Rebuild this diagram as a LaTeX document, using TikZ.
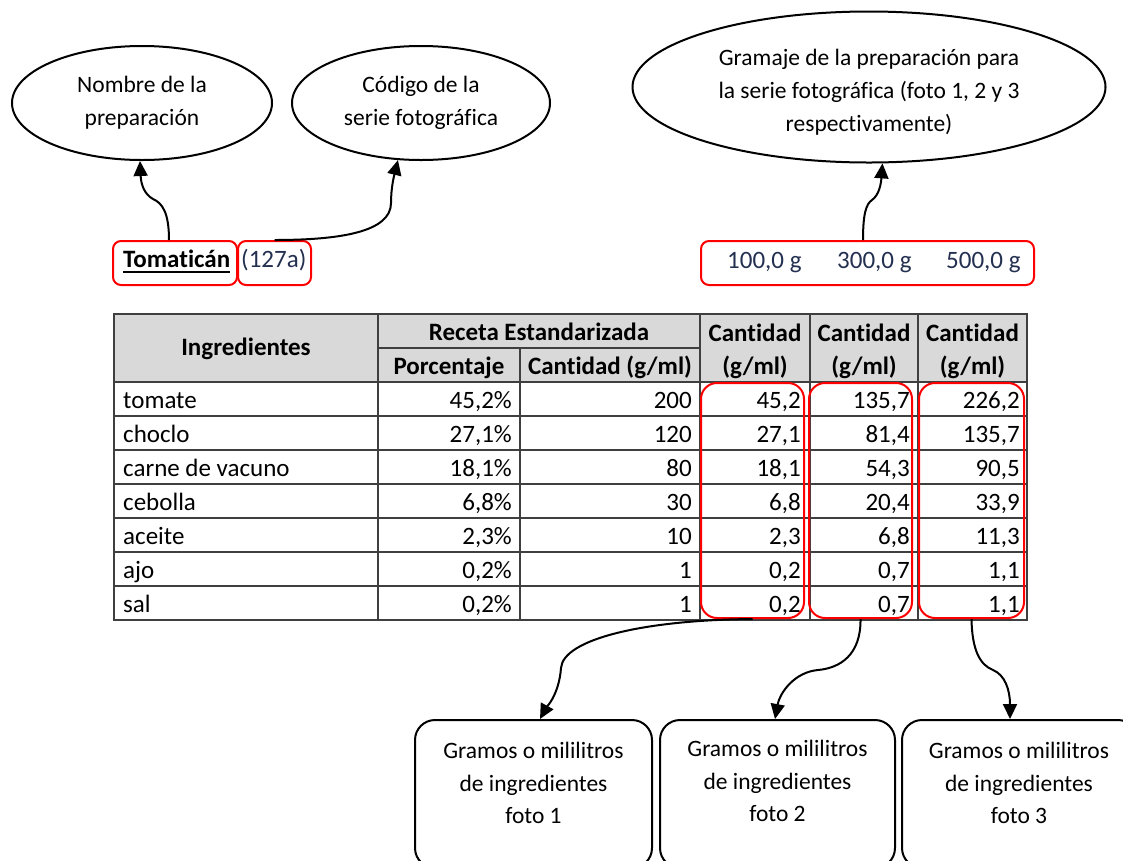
\documentclass[tikz,border=0pt]{standalone}
\usepackage{fontspec}
\setmainfont{Carlito}[Ligatures=NoCommon]
\usetikzlibrary{shapes.geometric,arrows.meta}
\definecolor{redb}{HTML}{FF0000}
\definecolor{hdrfill}{HTML}{D9D9D9}
\definecolor{gridc}{HTML}{3F3F3F}
\definecolor{navyc}{HTML}{233050}
\newcommand\annfont{\fontsize{23.5}{33}\selectfont}
\newcommand\capfont{\fontsize{23.5}{32.5}\selectfont}
\newcommand\tabfont{\fontsize{25}{30}\selectfont}
\newcommand\mytabrow[7]{%
  \node[cellL] (ing#1) at (123,{408+34*#1}) {#2};
  \node[cellR] (pct#1) at (512,{408+34*#1}) {#3};
  \node[cellR] (qty#1) at (692,{408+34*#1}) {#4};
  \node[cellR] (fa#1) at (801,{408+34*#1}) {#5};
  \node[cellR] (fb#1) at (910,{408+34*#1}) {#6};
  \node[cellR] (fc#1) at (1020,{408+34*#1}) {#7};
}
\begin{document}
\begin{tikzpicture}[x=1pt,y=-1pt,
  oval/.style={ellipse,draw,line width=2pt,inner sep=0pt,font=\annfont,align=center},
  redbox/.style={draw=redb,line width=2pt,rounded corners=8pt,inner sep=0pt,minimum height=44pt},
  redcol/.style={draw=redb,line width=2pt,rounded corners=16pt,inner sep=0pt},
  capbox/.style={draw,line width=2pt,rounded corners=20pt,inner sep=0pt,minimum height=148pt},
  captext/.style={font=\capfont,align=center,inner sep=0pt},
  ovaltext/.style={font=\annfont,align=center,inner sep=0pt},
  conn/.style={line width=2pt,-{Triangle[width=14pt,length=15pt]}},
  cellL/.style={font=\tabfont,inner sep=0pt,anchor=base west},
  cellR/.style={font=\tabfont,inner sep=0pt,anchor=base east},
  hd/.style={font=\tabfont\bfseries,inner sep=0pt,anchor=base},
  navytext/.style={font=\tabfont,text=navyc,inner sep=0pt,anchor=base west},
  gridline/.style={draw=gridc,line width=1.6pt}
]
\fill[white] (0,0) rectangle (1123,860);
\useasboundingbox (0,0) rectangle (1123,860);
\clip (0,0) rectangle (1123,860);

% ellipses
\node[oval,minimum width=260pt,minimum height=114pt] (e1) at (142,103) {Nombre de la\\preparación};
\node[oval,minimum width=258pt,minimum height=114pt] (e2) at (421,103) {Código de la\\serie fotográfica};
\node[oval,minimum width=473pt,minimum height=151pt] (e3) at (869,87) {};
\node[ovaltext] (e3t) at (869,92) {Gramaje de la preparación para\\la serie fotográfica (foto 1, 2 y 3\\respectivamente)};

% title boxes
\node[redbox,minimum width=124pt] (tbox) at (175,263) {};
\node[redbox,minimum width=73pt] (cbox) at (274.5,263) {};
\node[redbox,minimum width=333pt] (gbox) at (867.5,263) {};
\node[font=\tabfont\bfseries,inner sep=0pt,anchor=base west] (tom) at (123,267) {Tomaticán};
\draw[line width=2.5pt] ([yshift=-5pt]tom.base west) -- ([yshift=-5pt]tom.base east);
\node[navytext] (code) at (241,267) {(127a)};
\node[navytext] (g1) at (727,268) {100,0 g};
\node[navytext] (g2) at (837,268) {300,0 g};
\node[navytext] (g3) at (946,268) {500,0 g};

% table
\fill[hdrfill] (114,314) rectangle (1027,382);
\draw[gridline] (114,314) rectangle (1027,620);
\foreach \yy in {382,416,450,484,518,552,586} \draw[gridline] (114,\yy) -- (1027,\yy);
\draw[gridline] (378,348) -- (700,348);
\foreach \xx in {378,700,810,918} \draw[gridline] (\xx,314) -- (\xx,620);
\draw[gridline] (520,348) -- (520,620);

\node[hd] (h1) at (246,355) {Ingredientes};
\node[hd] (h2) at (539,340) {Receta Estandarizada};
\node[hd] (h3) at (449,374) {Porcentaje};
\node[hd] (h4) at (610,374) {Cantidad (g/ml)};
\node[hd] (h5a) at (755,341) {Cantidad};
\node[hd] (h5b) at (755,374) {(g/ml)};
\node[hd] (h6a) at (864,341) {Cantidad};
\node[hd] (h6b) at (864,374) {(g/ml)};
\node[hd] (h7a) at (972.5,341) {Cantidad};
\node[hd] (h7b) at (972.5,374) {(g/ml)};

\mytabrow{0}{tomate}{45,2\%}{200}{45,2}{135,7}{226,2}
\mytabrow{1}{choclo}{27,1\%}{120}{27,1}{81,4}{135,7}
\mytabrow{2}{carne de vacuno}{18,1\%}{80}{18,1}{54,3}{90,5}
\mytabrow{3}{cebolla}{6,8\%}{30}{6,8}{20,4}{33,9}
\mytabrow{4}{aceite}{2,3\%}{10}{2,3}{6,8}{11,3}
\mytabrow{5}{ajo}{0,2\%}{1}{0,2}{0,7}{1,1}
\mytabrow{6}{sal}{0,2\%}{1}{0,2}{0,7}{1,1}

% red columns
\node[redcol,minimum width=103pt,minimum height=235pt] (rc1) at (752.5,500.5) {};
\node[redcol,minimum width=103pt,minimum height=235pt] (rc2) at (860.5,500.5) {};
\node[redcol,minimum width=105pt,minimum height=235pt] (rc3) at (971.5,500.5) {};

% bottom boxes
\node[capbox,minimum width=237pt] (b1) at (533.5,794) {};
\node[capbox,minimum width=235pt] (b2) at (777.5,794) {};
\node[capbox,minimum width=236pt] (b3) at (1020,794) {};
\node[captext] (b1t) at (533.5,783) {Gramos o mililitros\\de ingredientes\\foto 1};
\node[captext] (b2t) at (777.5,781) {Gramos o mililitros\\de ingredientes\\foto 2};
\node[captext] (b3t) at (1019,783) {Gramos o mililitros\\de ingredientes\\foto 3};

% connectors
\draw[conn] ([xshift=-6pt]tbox.north) .. controls (169,212) and (162,203) .. (153,199) .. controls (144,194) and (141,184) .. (e1.268);
\draw[conn] (cbox.north) .. controls (340,240) and (391,232) .. (391,203) .. controls (391,188) and (394,176) .. (e2.248);
\draw[conn] ([xshift=-4.5pt]gbox.north) .. controls (863,214) and (866,204) .. (872,200) .. controls (879,195) and (881,184) .. (e3.280);
\draw[conn] (rc1.south) .. controls (640,620) and (563,640) .. (561,668) .. controls (559,695) and (546,708) .. ([xshift=6.5pt]b1.north);
\draw[conn] (rc2.south) .. controls (861,655) and (840,668) .. (818,670) .. controls (795,672) and (780,692) .. ([xshift=-2.5pt]b2.north);
\draw[conn] (rc3.south) .. controls (972,650) and (980,665) .. (993,670) .. controls (1005,675) and (1010,690) .. ([xshift=-10pt]b3.north);
\end{tikzpicture}
\end{document}
